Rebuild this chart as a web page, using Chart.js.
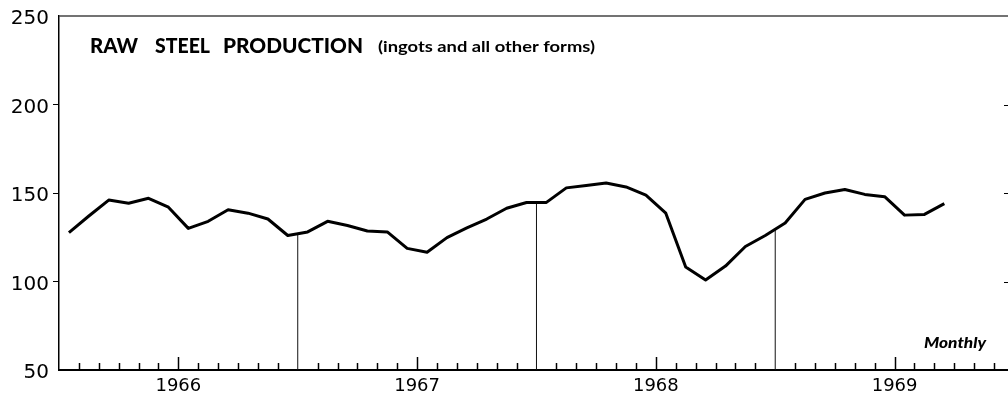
<!DOCTYPE html>
<html><head><meta charset="utf-8">
<script src="https://cdn.jsdelivr.net/npm/chart.js@4/dist/chart.umd.min.js"></script>
<style>html,body{margin:0;padding:0;background:#fff;overflow:hidden}#wrap{width:1008px;height:400px;position:relative}</style>
</head><body><div id="wrap"><canvas id="c" width="1008" height="400"></canvas></div>
<script>
// ---- data ----
const years = ['1966', '1967', '1968', '1969'];
const production = [
  127.6, 137, 146, 144.2, 147, 142, 130, 134, 140.5, 138.6, 135.3, 126,
  128, 134, 131.6, 128.5, 128, 118.7, 116.5, 124.8, 130.3, 135.3, 141.4, 144.6,
  144.7, 152.9, 154.3, 155.6, 153.4, 148.8, 138.6, 108.2, 100.8, 108.7, 119.8, 126,
  133.1, 146.4, 150, 152, 149.2, 147.9, 137.5, 137.9, 144
];
const yTicks = [50, 100, 150, 200, 250];
const yearBoundaries = [12, 24, 36];
const titleWords = ['RAW', 'STEEL', 'PRODUCTION'];
const subtitle = '(ingots and all other forms)';
const note = 'Monthly';

// ---- build datasets ----
const mainData = production.map((v, i) => ({ x: i + 0.5, y: v }));
function valueAt(k) { return (production[k - 1] + production[k]) / 2; }
const boundarySets = yearBoundaries.map(k => ({
  data: [{ x: k, y: 50 }, { x: k, y: valueAt(k) }],
  borderColor: '#111', borderWidth: 1, pointRadius: 0, tension: 0
}));

function drawFit(ctx, text, x, y, w, font) {
  ctx.font = font;
  const m = ctx.measureText(text).width;
  ctx.save();
  ctx.translate(x, y);
  ctx.scale(w / m, 1);
  ctx.fillText(text, 0, 0);
  ctx.restore();
}

const decor = {
  id: 'decor',
  afterDraw(chart) {
    const { ctx, chartArea: a, scales: { x, y } } = chart;
    ctx.save();
    ctx.strokeStyle = '#000';
    ctx.lineWidth = 1.5;
    // month ticks pointing up into plot
    for (let k = 1; k <= Math.floor(x.max); k++) {
      if (yearBoundaries.includes(k)) continue;
      const px = Math.round(x.getPixelForValue(k)) + 0.5;
      const len = (k % 12 === 6) ? 13 : 7;
      ctx.beginPath(); ctx.moveTo(px, a.bottom); ctx.lineTo(px, a.bottom - len); ctx.stroke();
    }
    // right-edge ticks
    ctx.lineWidth = 1;
    [100, 150, 200].forEach(v => {
      const py = Math.round(y.getPixelForValue(v)) + 0.5;
      ctx.beginPath(); ctx.moveTo(a.right - 4, py); ctx.lineTo(a.right, py); ctx.stroke();
    });
    // top border
    ctx.strokeStyle = '#444';
    ctx.lineWidth = 1.5;
    ctx.beginPath(); ctx.moveTo(a.left, a.top); ctx.lineTo(a.right, a.top); ctx.stroke();
    // texts
    ctx.fillStyle = '#000';
    ctx.textBaseline = 'alphabetic';
    const tf = '900 21px Lato';
    drawFit(ctx, titleWords[0], 90, 53, 48, tf);
    drawFit(ctx, titleWords[1], 155, 53, 55, tf);
    drawFit(ctx, titleWords[2], 223, 53, 140, tf);
    drawFit(ctx, subtitle, 378, 52, 217, 'bold 15px Lato');
    drawFit(ctx, note, 924, 348, 62, 'italic 900 15px Lato');
    ctx.restore();
  }
};

new Chart(document.getElementById('c'), {
  type: 'line',
  data: {
    datasets: [{
      data: mainData, borderColor: '#000', borderWidth: 3, pointRadius: 0,
      tension: 0, borderJoinStyle: 'round', borderCapStyle: 'butt'
    }, ...boundarySets]
  },
  options: {
    responsive: false, animation: false,
    layout: { padding: { top: 9, right: 0, left: 0, bottom: 0 } },
    plugins: { legend: { display: false }, tooltip: { enabled: false }, title: { display: false } },
    scales: {
      x: {
        type: 'linear', min: 0, max: 47.7,
        grid: { display: false, drawTicks: false },
        border: { display: true, color: '#000', width: 2 },
        afterBuildTicks: s => { s.ticks = years.map((yr, i) => ({ value: i * 12 + 6 })); },
        afterFit: s => { s.height = 30; },
        ticks: {
          autoSkip: false, maxRotation: 0, padding: 6, color: '#000',
          font: { family: 'DejaVu Sans', size: 18 },
          callback: v => years[(v - 6) / 12]
        }
      },
      y: {
        type: 'linear', min: 50, max: 250,
        afterBuildTicks: s => { s.ticks = yTicks.map(v => ({ value: v })); },
        afterFit: s => { s.width = 59; },
        grid: {
          display: true, drawOnChartArea: false, drawTicks: true, tickLength: 6,
          color: c => (c.tick && (c.tick.value === 50 || c.tick.value === 250)) ? 'rgba(0,0,0,0)' : '#000',
          lineWidth: 1
        },
        border: { display: true, color: '#000', width: 1.5 },
        ticks: { padding: 4, labelOffset: 3, color: '#000', font: { family: 'DejaVu Sans', size: 20 } }
      }
    }
  },
  plugins: [decor]
});
</script>
</body></html>
